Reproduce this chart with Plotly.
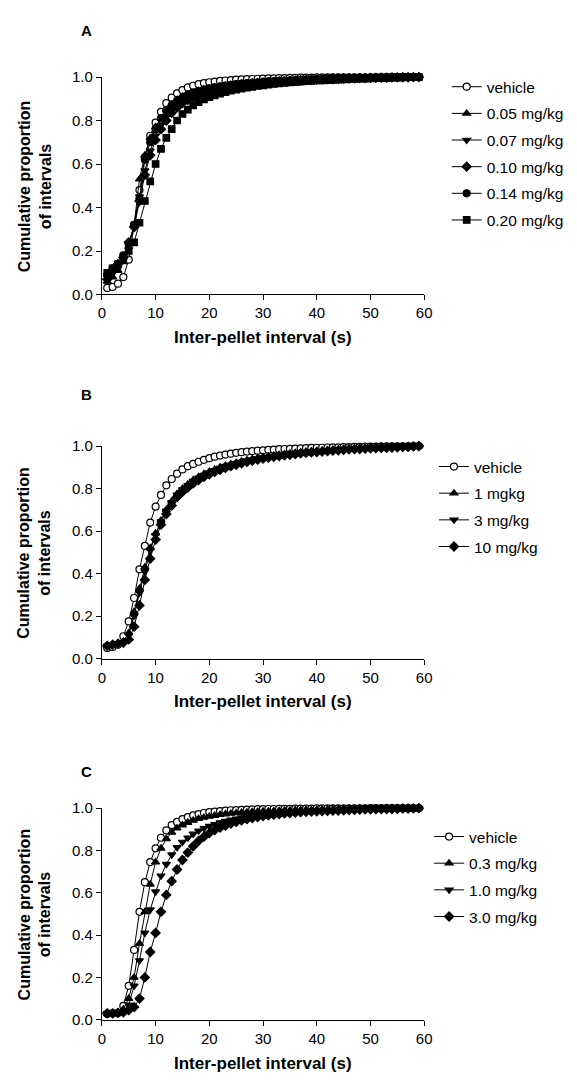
import plotly.graph_objects as go

x_seconds = list(range(1, 60))

# Panel A
A_labels = ["vehicle", "0.05 mg/kg", "0.07 mg/kg", "0.10 mg/kg", "0.14 mg/kg", "0.20 mg/kg"]
A_vehicle = [.03, .035, .05, .08, .16, .32, .48, .63, .73, .79, .84, .88, .905, .925, .94, .952, .96, .967, .972, .976,
             .979, .982, .984, .986, .988, .989, .990, .991, .992, .993, .994, .994, .995, .995, .996, .996, .997, .997, .997, .998,
             .998, .998, .998, .998, .999, .999, .999, .999, .999, .999, 1.0, 1.0, 1.0, 1.0, 1.0, 1.0, 1.0, 1.0, 1.0]
A_005 = [.06, .08, .11, .15, .22, .32, .53, .64, .72, .77, .81, .85, .875, .895, .91, .92, .93, .937, .943, .948,
         .953, .957, .961, .964, .967, .970, .972, .974, .976, .978, .980, .981, .983, .984, .985, .986, .987, .988, .989, .990,
         .991, .992, .993, .993, .994, .995, .995, .996, .996, .997, .997, .998, .998, .998, .999, .999, .999, 1.0, 1.0]
A_007 = [.08, .10, .12, .16, .23, .31, .45, .57, .66, .73, .78, .82, .85, .87, .89, .90, .912, .922, .93, .937,
         .943, .948, .953, .957, .961, .964, .967, .970, .972, .974, .976, .978, .980, .981, .983, .984, .985, .986, .987, .988,
         .989, .990, .991, .992, .993, .993, .994, .995, .995, .996, .996, .997, .997, .998, .998, .999, .999, 1.0, 1.0]
A_010 = [.07, .11, .14, .17, .24, .31, .43, .55, .64, .71, .76, .80, .835, .86, .88, .895, .907, .917, .926, .933,
         .94, .945, .95, .954, .958, .962, .965, .968, .971, .973, .975, .977, .979, .980, .982, .983, .985, .986, .987, .988,
         .989, .990, .991, .992, .993, .993, .994, .995, .995, .996, .996, .997, .997, .998, .998, .999, .999, 1.0, 1.0]
A_014 = [.09, .12, .14, .18, .23, .32, .44, .62, .70, .76, .81, .845, .87, .89, .905, .917, .927, .935, .942, .948,
         .953, .957, .961, .964, .967, .970, .972, .974, .976, .978, .980, .981, .983, .984, .985, .986, .987, .988, .989, .990,
         .991, .992, .993, .993, .994, .995, .995, .996, .996, .997, .997, .998, .998, .998, .999, .999, .999, 1.0, 1.0]
A_020 = [.10, .12, .14, .17, .20, .24, .33, .43, .52, .60, .67, .72, .76, .80, .83, .85, .87, .885, .897, .907,
         .916, .924, .931, .937, .942, .947, .951, .955, .959, .962, .965, .968, .971, .973, .975, .977, .979, .981, .982, .984,
         .985, .986, .987, .988, .989, .990, .991, .992, .993, .994, .995, .995, .996, .997, .997, .998, .999, .999, 1.0]

# Panel B
B_labels = ["vehicle", "1 mgkg", "3 mg/kg", "10 mg/kg"]
B_vehicle = [.05, .055, .065, .105, .175, .285, .42, .53, .64, .715, .77, .815, .845, .87, .89, .905, .916, .926, .935, .943,
             .95, .955, .96, .964, .968, .971, .974, .976, .978, .98, .982, .983, .985, .986, .987, .988, .989, .99, .991, .992,
             .992, .993, .994, .994, .995, .995, .996, .996, .997, .997, .997, .998, .998, .998, .999, .999, .999, 1.0, 1.0]
B_1 = [.06, .065, .07, .08, .12, .22, .33, .43, .52, .59, .65, .70, .74, .775, .80, .82, .84, .855, .868, .88,
       .89, .90, .908, .915, .922, .928, .934, .939, .944, .948, .952, .956, .959, .962, .965, .968, .971, .973, .975, .977,
       .979, .981, .983, .984, .986, .987, .988, .989, .990, .991, .992, .993, .994, .995, .996, .997, .998, .999, 1.0]
B_3 = [.06, .065, .07, .075, .11, .20, .31, .41, .51, .58, .645, .695, .735, .77, .795, .815, .835, .85, .863, .875,
       .886, .896, .905, .912, .919, .925, .931, .936, .941, .945, .949, .953, .957, .960, .963, .966, .969, .971, .973, .975,
       .977, .979, .981, .983, .985, .986, .987, .988, .989, .990, .991, .992, .993, .994, .995, .996, .997, .998, 1.0]
B_10 = [.06, .065, .07, .075, .09, .15, .25, .37, .47, .56, .63, .68, .72, .76, .785, .805, .825, .84, .855, .867,
        .878, .888, .897, .905, .912, .919, .925, .931, .936, .941, .945, .949, .953, .956, .959, .962, .965, .968, .970, .972,
        .974, .976, .978, .980, .982, .984, .985, .986, .988, .989, .990, .991, .992, .993, .994, .995, .996, .998, 1.0]

# Panel C
C_labels = ["vehicle", "0.3 mg/kg", "1.0 mg/kg", "3.0 mg/kg"]
C_vehicle = [.028, .03, .032, .065, .16, .33, .51, .65, .745, .81, .86, .895, .92, .935, .948, .958, .966, .972, .977, .981,
             .984, .986, .988, .99, .991, .992, .993, .994, .995, .995, .996, .996, .997, .997, .997, .998, .998, .998, .998, .999,
             .999, .999, .999, .999, .999, .999, .999, .999, .999, 1.0, 1.0, 1.0, 1.0, 1.0, 1.0, 1.0, 1.0, 1.0, 1.0]
C_03 = [.03, .03, .035, .05, .10, .20, .36, .51, .64, .745, .81, .855, .885, .905, .92, .932, .942, .95, .956, .961,
        .965, .969, .972, .975, .977, .979, .981, .983, .984, .985, .986, .987, .988, .989, .99, .991, .991, .992, .993, .993,
        .994, .994, .995, .995, .996, .996, .997, .997, .997, .998, .998, .998, .999, .999, .999, .999, 1.0, 1.0, 1.0]
C_10 = [.03, .03, .035, .04, .07, .16, .28, .41, .52, .605, .68, .735, .78, .815, .84, .86, .878, .893, .905, .915,
        .924, .932, .939, .945, .95, .955, .959, .963, .966, .969, .972, .974, .976, .978, .980, .982, .983, .984, .985, .986,
        .987, .988, .989, .990, .991, .992, .993, .993, .994, .995, .995, .996, .996, .997, .997, .998, .998, .999, 1.0]
C_30 = [.03, .03, .032, .035, .045, .06, .10, .20, .32, .41, .51, .59, .655, .71, .755, .79, .82, .845, .865, .882,
        .896, .908, .918, .927, .935, .942, .948, .953, .958, .962, .966, .969, .972, .975, .977, .979, .981, .983, .984, .985,
        .986, .987, .988, .989, .990, .991, .992, .993, .994, .994, .995, .995, .996, .996, .997, .998, .998, .999, 1.0]

x_ticks = [0, 10, 20, 30, 40, 50, 60]
y_ticks = [0.0, 0.2, 0.4, 0.6, 0.8, 1.0]

OFF = 8  # default page body margin
W, H = 577 - 2 * OFF, 1080 - 2 * OFF
FONT = "Arial, Liberation Sans, Helvetica, sans-serif"

def px(v):
    return (v - OFF) / W

def py(v):
    return 1 - (v - OFF) / H

panels = [
    # (name, label y px, top px, bottom px, labels, series, symbols, legend x px, legend first-item px)
    ("A", 22, 69, 290, A_labels, [A_vehicle, A_005, A_007, A_010, A_014, A_020],
     ["circle", "triangle-up", "triangle-down", "diamond", "circle", "square"], 453, 81),
    ("B", 392, 444, 660, B_labels, [B_vehicle, B_1, B_3, B_10],
     ["circle", "triangle-up", "triangle-down", "diamond"], 440, 467),
    ("C", 775, 812, 1027, C_labels, [C_vehicle, C_03, C_10, C_30],
     ["circle", "triangle-up", "triangle-down", "diamond"], 435, 843),
]

fig = go.Figure()
x_left, x_right = 100, 430
annotations = []
layout_axes = {}
for i, (name, laby, top, bot, labels, series, symbols, legx, legy) in enumerate(panels):
    n = i + 1
    xa = "x" if n == 1 else f"x{n}"
    ya = "y" if n == 1 else f"y{n}"
    leg = "legend" if n == 1 else f"legend{n}"
    for j, (lab, vals, sym) in enumerate(zip(labels, series, symbols)):
        is_vehicle = j == 0
        fig.add_trace(go.Scatter(
            x=x_seconds, y=vals, name=lab, mode="lines+markers",
            xaxis=xa, yaxis=ya, legend=leg, legendgroup=f"{name}{j}",
            cliponaxis=False,
            line=dict(color="black", width=1),
            marker=dict(symbol=sym, size=7 if sym != "square" else 6.5,
                        color="white" if is_vehicle else "black",
                        line=dict(color="black", width=1.2)),
        ))
    xkey = "xaxis" if n == 1 else f"xaxis{n}"
    ykey = "yaxis" if n == 1 else f"yaxis{n}"
    layout_axes[xkey] = dict(
        domain=[px(x_left), px(x_right)], anchor=ya, range=[0, 60],
        tickvals=x_ticks, ticks="outside", ticklen=5, tickwidth=1, tickcolor="black",
        showline=True, linecolor="black", linewidth=1, showgrid=False, zeroline=False,
        tickfont=dict(family=FONT, size=15, color="black"),
    )
    layout_axes[ykey] = dict(
        domain=[py(bot), py(top)], anchor=xa, range=[0, 1],
        tickvals=y_ticks, tickformat=".1f", ticks="outside", ticklen=5, tickwidth=1, tickcolor="black",
        showline=True, linecolor="black", linewidth=1, showgrid=False, zeroline=False,
        tickfont=dict(family=FONT, size=15, color="black"),
    )
    layout_axes[leg] = dict(
        x=px(legx), xanchor="left", y=py(legy - 19), yanchor="top",
        font=dict(family=FONT, size=15.5, color="black"),
        bgcolor="rgba(0,0,0,0)", tracegroupgap=3.5, itemwidth=30,
    )
    annotations.append(dict(
        text=f"<b>{name}</b>", xref="paper", yref="paper", x=px(84), y=py(laby),
        xanchor="center", yanchor="middle", showarrow=False,
        font=dict(family=FONT, size=15, color="black"),
    ))
    annotations.append(dict(
        text="<b>Cumulative proportion<br>of intervals</b>", xref="paper", yref="paper",
        x=px(31), y=py((top + bot) / 2), textangle=-90, xanchor="center", yanchor="middle",
        showarrow=False, font=dict(family=FONT, size=16, color="black"),
    ))
    annotations.append(dict(
        text="<b>Inter-pellet interval (s)</b>", xref="paper", yref="paper",
        x=px((x_left + x_right) / 2), y=py(bot + 44), xanchor="center", yanchor="middle",
        showarrow=False, font=dict(family=FONT, size=17, color="black"),
    ))

fig.update_layout(
    width=W, height=H, margin=dict(l=0, r=0, t=0, b=0),
    paper_bgcolor="white", plot_bgcolor="white",
    showlegend=True, annotations=annotations, **layout_axes,
)

fig.write_html("out.html")
